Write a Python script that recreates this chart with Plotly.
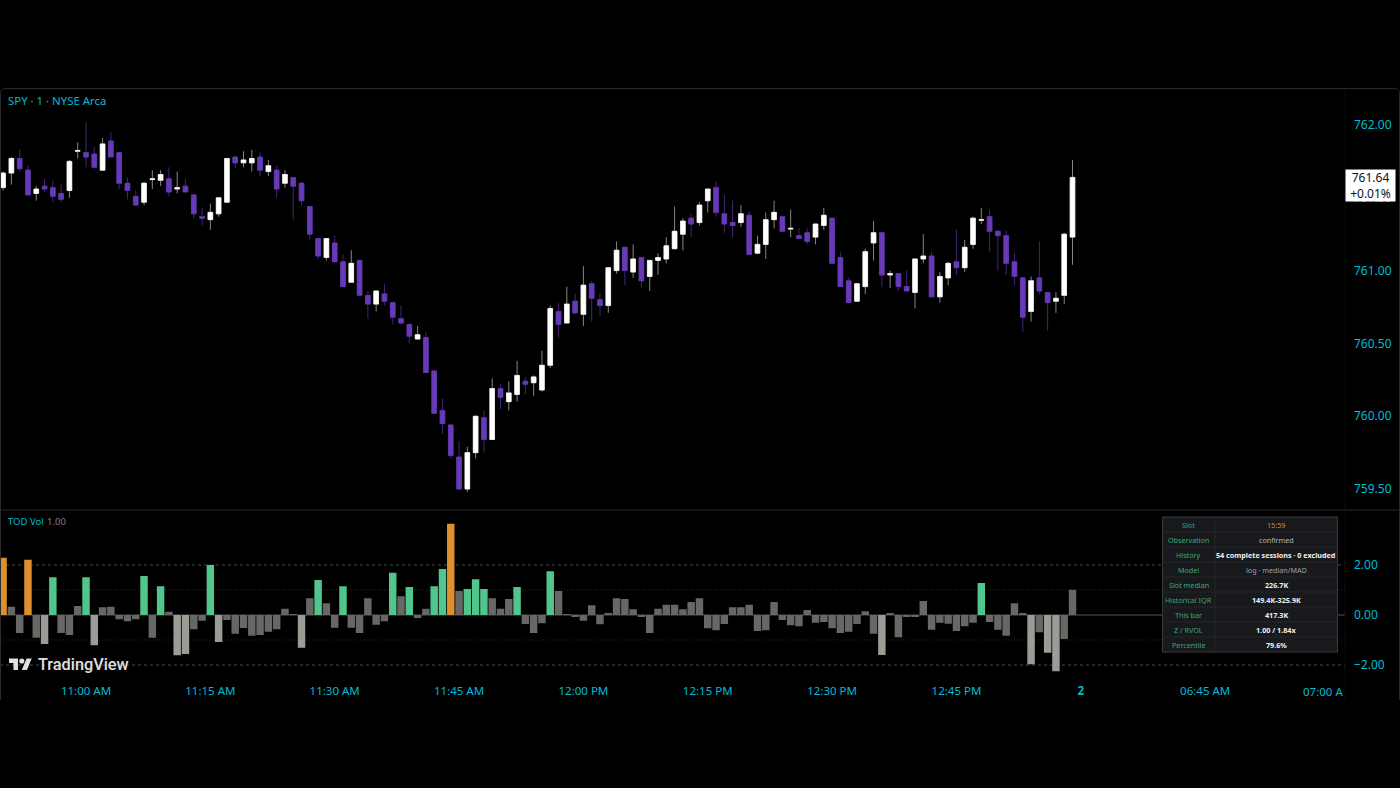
# SPY 1 minute chart with the time of day volume pane
import plotly.graph_objects as go

# Width / height of the page
pngwidth = 1400
pngheight = 788

# Bars are numbered in minutes from 11:00 AM
bar_index = list(range(-10, 120))

opens = [
    761.57, 761.67, 761.77, 761.69, 761.53, 761.58, 761.57, 761.53, 761.55, 761.82,
    761.81, 761.80, 761.69, 761.89, 761.81, 761.60, 761.51, 761.47, 761.625, 761.62,
    761.63, 761.56, 761.58, 761.52, 761.37, 761.35, 761.39, 761.47, 761.78, 761.74,
    761.74, 761.78, 761.68, 761.69, 761.60, 761.64, 761.60, 761.44, 761.22, 761.09,
    761.19, 761.06, 760.92, 761.07, 760.83, 760.77, 760.84, 760.78, 760.67, 760.63,
    760.53, 760.54, 760.31, 760.04, 759.94, 759.72, 759.50, 759.75, 759.99, 759.84,
    760.19, 760.10, 760.15, 760.24, 760.23, 760.18, 760.35, 760.72, 760.64, 760.79,
    760.70, 760.91, 760.80, 760.76, 761.00, 761.16, 760.99, 761.09, 760.96, 761.07,
    761.08, 761.15, 761.25, 761.36, 761.33, 761.48, 761.57, 761.39, 761.33, 761.33,
    761.38, 761.12, 761.18, 761.35, 761.37, 761.285, 761.24, 761.26, 761.23, 761.31,
    761.36, 761.09, 760.93, 760.79, 760.89, 761.19, 761.26, 760.97, 760.98, 760.89,
    760.85, 761.08, 761.10, 760.82, 760.95, 761.06, 761.02, 761.18, 761.345, 761.37,
    761.27, 761.24, 761.06, 760.95, 760.72, 760.95, 760.85, 760.79, 760.83, 761.23,
]
highs = [
    761.68, 761.78, 761.83, 761.72, 761.58, 761.63, 761.62, 761.59, 761.76, 761.88,
    762.02, 761.85, 761.91, 761.95, 761.81, 761.64, 761.55, 761.61, 761.69, 761.69,
    761.71, 761.68, 761.63, 761.52, 761.43, 761.46, 761.50, 761.77, 761.79, 761.82,
    761.83, 761.81, 761.76, 761.72, 761.69, 761.64, 761.61, 761.44, 761.22, 761.22,
    761.24, 761.11, 761.14, 761.07, 760.86, 760.86, 760.91, 760.78, 760.76, 760.64,
    760.62, 760.58, 760.32, 760.12, 759.94, 759.83, 759.79, 760.00, 760.04, 760.26,
    760.22, 760.24, 760.38, 760.27, 760.28, 760.45, 760.76, 760.78, 760.89, 760.84,
    761.03, 760.93, 760.84, 761.02, 761.20, 761.16, 761.18, 761.09, 761.07, 761.12,
    761.23, 761.44, 761.36, 761.39, 761.47, 761.56, 761.61, 761.52, 761.48, 761.45,
    761.41, 761.24, 761.40, 761.48, 761.37, 761.42, 761.29, 761.29, 761.32, 761.43,
    761.36, 761.13, 760.95, 760.91, 761.15, 761.34, 761.26, 761.00, 760.98, 761.00,
    761.08, 761.25, 761.13, 760.99, 761.06, 761.28, 761.21, 761.37, 761.43, 761.42,
    761.28, 761.28, 761.12, 760.96, 760.96, 761.20, 760.85, 760.85, 761.26, 761.76,
]
lows = [
    761.55, 761.59, 761.68, 761.52, 761.48, 761.54, 761.47, 761.47, 761.50, 761.77,
    761.71, 761.70, 761.69, 761.78, 761.56, 761.49, 761.45, 761.45, 761.56, 761.58,
    761.51, 761.53, 761.54, 761.36, 761.31, 761.28, 761.37, 761.47, 761.70, 761.71,
    761.68, 761.65, 761.65, 761.50, 761.57, 761.35, 761.45, 761.21, 761.08, 761.07,
    761.06, 760.89, 760.92, 760.83, 760.67, 760.72, 760.76, 760.63, 760.63, 760.50,
    760.53, 760.30, 760.02, 759.88, 759.71, 759.50, 759.48, 759.71, 759.75, 759.84,
    760.05, 760.04, 760.10, 760.15, 760.14, 760.17, 760.33, 760.54, 760.64, 760.70,
    760.62, 760.65, 760.69, 760.71, 760.98, 760.90, 760.95, 760.88, 760.86, 760.97,
    761.05, 761.15, 761.14, 761.23, 761.31, 761.40, 761.37, 761.26, 761.23, 761.30,
    761.11, 761.12, 761.08, 761.29, 761.27, 761.23, 761.22, 761.18, 761.18, 761.28,
    761.05, 760.89, 760.78, 760.79, 760.84, 761.07, 760.89, 760.88, 760.86, 760.86,
    760.74, 761.05, 760.82, 760.78, 760.90, 760.97, 760.99, 761.15, 761.32, 761.13,
    761.00, 760.97, 760.90, 760.58, 760.65, 760.84, 760.59, 760.71, 760.77, 761.04,
]
closes = [
    761.67, 761.77, 761.70, 761.52, 761.56, 761.56, 761.51, 761.49, 761.75, 761.825,
    761.78, 761.71, 761.87, 761.78, 761.60, 761.55, 761.45, 761.60, 761.63, 761.66,
    761.54, 761.57, 761.54, 761.39, 761.36, 761.40, 761.50, 761.77, 761.74, 761.76,
    761.77, 761.69, 761.72, 761.56, 761.66, 761.58, 761.48, 761.25, 761.10, 761.22,
    761.06, 760.89, 761.05, 760.83, 760.77, 760.86, 760.79, 760.68, 760.64, 760.55,
    760.56, 760.30, 760.02, 759.95, 759.73, 759.50, 759.75, 760.00, 759.84, 760.19,
    760.13, 760.16, 760.28, 760.22, 760.27, 760.35, 760.74, 760.63, 760.77, 760.71,
    760.90, 760.81, 760.76, 761.02, 761.14, 761.00, 761.08, 760.93, 761.07, 761.09,
    761.17, 761.27, 761.34, 761.32, 761.45, 761.56, 761.40, 761.32, 761.31, 761.39,
    761.11, 761.18, 761.35, 761.40, 761.27, 761.29, 761.22, 761.20, 761.32, 761.38,
    761.05, 760.89, 760.78, 760.91, 761.13, 761.26, 760.97, 760.98, 760.89, 760.86,
    761.08, 761.10, 760.82, 760.96, 761.05, 761.02, 761.16, 761.36, 761.35, 761.27,
    761.24, 761.05, 760.96, 760.68, 760.93, 760.86, 760.78, 760.81, 761.25, 761.64,
]
tod_z = [
    2.29, 0.33, -0.72, 2.21, -0.91, -1.16, 1.51, -0.72, -0.80, 0.36,
    1.51, -1.21, 0.31, 0.33, -0.17, -0.25, -0.17, 1.56, -0.91, 1.15,
    0.13, -1.61, -1.56, -0.57, -0.23, 2.00, -1.08, -0.20, -0.75, -0.52,
    -0.83, -0.80, -0.67, -0.57, 0.25, 0.02, -1.31, 0.67, 1.40, 0.47,
    -0.51, 1.15, -0.51, -0.72, 0.67, -0.39, -0.25, 1.69, 0.75, 1.12,
    -0.12, 0.25, 1.15, 1.84, 3.65, 0.96, 1.04, 1.43, 1.04, 0.67,
    0.25, 0.64, 1.12, -0.36, -0.72, -0.33, 1.75, 0.96, 0.04, -0.07,
    -0.23, 0.39, -0.37, 0.05, 0.67, 0.64, 0.23, -0.07, -0.72, 0.25,
    0.41, 0.41, 0.23, 0.52, 0.67, -0.53, -0.61, -0.36, 0.31, 0.31,
    0.41, -0.64, -0.61, 0.52, -0.20, -0.41, -0.45, 0.20, -0.31, -0.28,
    -0.53, -0.72, -0.67, -0.36, 0.15, -0.75, -1.60, 0.08, -0.89, -0.05,
    -0.05, 0.56, -0.59, -0.31, -0.35, -0.64, -0.45, -0.31, 1.28, -0.28,
    -0.59, -0.83, 0.47, 0.08, -1.97, -0.69, -1.51, -2.25, -0.96, 1.01,
]

# Time axis labels
time_ticks = [0, 15, 30, 45, 60, 75, 90, 105, 120, 135]
time_labels = ["11:00 AM", "11:15 AM", "11:30 AM", "11:45 AM", "12:00 PM", "12:15 PM",
               "12:30 PM", "12:45 PM", "<b>2</b>", "06:45 AM"]
price_ticks = [759.5, 760, 760.5, 761, 761.5, 762]
tod_ticks = [-2, 0, 2]

# Stats table
table_labels = ["Slot", "Observation", "History", "Model", "Slot median",
                "Historical IQR", "This bar", "Z / RVOL", "Percentile"]
table_values = ["15:59", "confirmed", "<b>54 complete sessions · 0 excluded</b>", "log · median/MAD",
                "<b>226.7K</b>", "<b>149.4K-325.9K</b>", "<b>417.3K</b>", "<b>1.00 / 1.84x</b>", "<b>79.6%</b>"]
table_value_colors = ["#d98a2c", "#b4b4b4", "#f0f0f0", "#a0a0a0", "#f0f0f0", "#f0f0f0", "#f0f0f0", "#f0f0f0", "#f0f0f0"]

# Colors
cyan = "#00bcd4"
purple = "#673ab7"
wick_white = "#858585"
wick_purple = "#40267a"
label_green = "#3fa577"


def bar_color(z):
    if z >= 2.1:
        return "#de8f30"
    if z >= 1.02:
        return "#52c58c"
    if z <= -1.0:
        return "#9c9c97"
    return "#676765"


# Page pixels to paper coordinates, the plot area is x 0-1345, y 88-680
def px(x):
    return x / 1345


def py(y):
    return (680 - y) / 592


# Body tops and bottoms, the second candlestick only draws the bodies
body_highs = [max(o, c) for o, c in zip(opens, closes)]
body_lows = [min(o, c) for o, c in zip(opens, closes)]

fig = go.Figure()

fig.add_trace(go.Candlestick(
    x=bar_index, open=opens, high=highs, low=lows, close=closes, whiskerwidth=0,
    increasing=dict(line=dict(color=wick_white, width=1), fillcolor="#ffffff"),
    decreasing=dict(line=dict(color=wick_purple, width=1), fillcolor=purple),
    yaxis="y", showlegend=False))
fig.add_trace(go.Candlestick(
    x=bar_index, open=opens, high=body_highs, low=body_lows, close=closes, whiskerwidth=0,
    increasing=dict(line=dict(color="#ffffff", width=0.6), fillcolor="#ffffff"),
    decreasing=dict(line=dict(color=purple, width=0.6), fillcolor=purple),
    yaxis="y", showlegend=False))
fig.add_trace(go.Bar(
    x=bar_index, y=tod_z, yaxis="y2", width=0.9, showlegend=False,
    marker=dict(color=[bar_color(z) for z in tod_z], line=dict(width=0))))

# Reference lines in the lower pane
ref_lines = [(2, "#4a4a4a", "3px,3px"), (1, "#2a2a2a", "1px,2px"), (0, "#555555", "solid"),
             (-1, "#2a2a2a", "1px,2px"), (-2, "#4a4a4a", "3px,3px")]
shapes = []
for level, color, dash in ref_lines:
    shapes.append(dict(type="line", xref="paper", x0=0, x1=1, yref="y2", y0=level, y1=level,
                       line=dict(color=color, width=1, dash=dash), layer="below"))

# Pane separator, right scale edge and chart border with rounded top corners
line_color = "#2b2b2e"
shapes.append(dict(type="line", xref="paper", yref="paper", x0=px(0), x1=px(1400), y0=py(510), y1=py(510),
                   line=dict(color=line_color, width=1)))
shapes.append(dict(type="line", xref="paper", yref="paper", x0=1, x1=1, y0=py(88), y1=py(700),
                   line=dict(color="#0c0c0c", width=1)))
border = "M %f %f L %f %f Q %f %f %f %f L %f %f Q %f %f %f %f L %f %f" % (
    px(0.5), py(700), px(0.5), py(94), px(0.5), py(88.5), px(6), py(88.5),
    px(1394), py(88.5), px(1399.5), py(88.5), px(1399.5), py(94), px(1399.5), py(700))
shapes.append(dict(type="path", xref="paper", yref="paper", path=border, line=dict(color=line_color, width=1)))


# TradingView mark, 36 units wide
def logo_x(u):
    return px(9 + u * 0.64)


def logo_y(u):
    return py(658.5 + (u - 4) * 0.64)


logo_parts = [
    [(14, 22), (7, 22), (7, 11), (0, 11), (0, 4), (14, 4)],
    [(28, 22), (20, 22), (27.5, 4), (35.5, 4)],
]
for part in logo_parts:
    path = "M " + " L ".join("%f %f" % (logo_x(a), logo_y(b)) for a, b in part) + " Z"
    shapes.append(dict(type="path", xref="paper", yref="paper", path=path, fillcolor="#e0e0e0", line=dict(width=0)))
shapes.append(dict(type="circle", xref="paper", yref="paper", x0=logo_x(16), x1=logo_x(24), y0=logo_y(4), y1=logo_y(12),
                   fillcolor="#e0e0e0", line=dict(width=0)))

annotations = [
    dict(text="SPY · 1 · NYSE Arca", x=px(6), y=py(100), font=dict(size=11.4, color=cyan), xanchor="left"),
    dict(text="TOD Vol", x=px(6), y=py(521.5), font=dict(size=9.5, color=cyan), xanchor="left"),
    dict(text="1.00", x=px(45), y=py(521.5), font=dict(size=9.5, color="#808080"), xanchor="left"),
    dict(text="TradingView", x=px(35.5), y=py(664), font=dict(family="Roboto", size=16.3, color="#e0e0e0", weight=500),
         xanchor="left"),
    dict(text="07:00 A", x=px(1345), y=py(691), font=dict(size=11.5, color=cyan), xanchor="right"),
    dict(text="761.64<br>+0.01%", x=px(1370.5), y=py(185.5), font=dict(size=12, color="#111111"),
         xanchor="center", bgcolor="#ffffff", width=49, height=31, align="center", borderpad=0),
]

# Table body and grid
table_left, table_split, table_right = 1162.5, 1215, 1337.5
table_top, row_h = 517, 15
table_bottom = table_top + row_h * len(table_labels)
shapes.append(dict(type="rect", xref="paper", yref="paper", x0=px(table_left), x1=px(table_right),
                   y0=py(table_top), y1=py(table_bottom), fillcolor="#17191d", line=dict(color="#3a3a3c", width=1)))
shapes.append(dict(type="line", xref="paper", yref="paper", x0=px(table_split), x1=px(table_split),
                   y0=py(table_top), y1=py(table_bottom), line=dict(color="#25272b", width=1)))
for row in range(len(table_labels)):
    if row > 0:
        shapes.append(dict(type="line", xref="paper", yref="paper", x0=px(table_left), x1=px(table_right),
                           y0=py(table_top + row * row_h), y1=py(table_top + row * row_h),
                           line=dict(color="#25272b", width=1)))
    row_y = py(table_top + (row + 0.5) * row_h)
    annotations.append(dict(text=table_labels[row], x=px((table_left + table_split) / 2), y=row_y,
                            font=dict(size=7.2, color=label_green), xanchor="center"))
    annotations.append(dict(text=table_values[row], x=px((table_split + table_right) / 2), y=row_y,
                            font=dict(size=7.2, color=table_value_colors[row]), xanchor="center"))

for a in annotations:
    a.update(xref="paper", yref="paper", yanchor="middle", showarrow=False)

fig.update_layout(
    width=pngwidth, height=pngheight,
    margin=dict(l=0, r=55, t=88, b=108, pad=0),
    paper_bgcolor="#000000", plot_bgcolor="#000000",
    font=dict(family="Noto Sans", size=12, color=cyan),
    boxgap=0.2, boxmode="overlay",
    showlegend=False,
    hovermode=False,
    shapes=shapes,
    annotations=annotations,
    xaxis=dict(range=[-10.374, 151.87], tickvals=time_ticks, ticktext=time_labels, tickfont=dict(size=11.5, color=cyan),
               showgrid=False, zeroline=False, showline=False, ticks="", anchor="y2", ticklabelstandoff=2,
               rangeslider=dict(visible=False)),
    yaxis=dict(domain=[170 / 592, 1], range=[759.356, 762.254], side="right", tickvals=price_ticks, tickformat=".2f",
               tickfont=dict(size=12, color=cyan), showgrid=False, zeroline=False, showline=False, ticks="",
               anchor="x", ticklabelstandoff=8),
    yaxis2=dict(domain=[0, 169 / 592], range=[-2.6, 4.16], side="right", tickvals=tod_ticks, tickformat=".2f",
                tickfont=dict(size=12, color=cyan), showgrid=False, zeroline=False, showline=False, ticks="",
                anchor="x", ticklabelstandoff=8),
)

# The page body has a default margin, take it off so the figure fills the window
fig.write_html("out.html", config=dict(displayModeBar=False),
               post_script="document.body.style.margin='0';document.body.style.background='#000';")
